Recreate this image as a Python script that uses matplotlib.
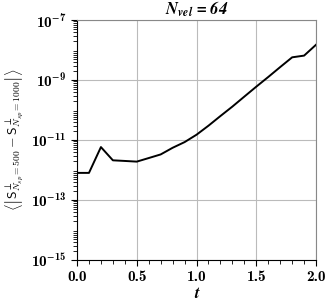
import matplotlib
matplotlib.use("Agg")
import matplotlib.pyplot as plt
from matplotlib.ticker import LogLocator, MultipleLocator, FixedLocator, NullFormatter

plt.rcParams["mathtext.fontset"] = "cm"
plt.rcParams["font.family"] = "serif"
plt.rcParams["font.serif"] = ["cmb10", "DejaVu Serif"]

# time samples and mean |S_perp(500) - S_perp(1000)|
t = [0.0, 0.1, 0.2, 0.3, 0.4, 0.5, 0.6, 0.7, 0.8, 0.9, 1.0,
     1.1, 1.2, 1.3, 1.4, 1.5, 1.6, 1.7, 1.8, 1.9, 2.0]
diff = [8.0e-13, 8.0e-13, 5.8e-12, 2.1e-12, 2.0e-12, 1.9e-12, 2.5e-12,
        3.3e-12, 5.5e-12, 8.5e-12, 1.5e-11, 3.0e-11, 6.3e-11, 1.3e-10,
        2.8e-10, 6.0e-10, 1.26e-9, 2.7e-9, 5.7e-9, 6.5e-9, 1.5e-8]

x_ticks = [0.0, 0.5, 1.0, 1.5, 2.0]
y_exps = [-15, -13, -11, -9, -7]

bold_it = dict(family="STIXGeneral", style="italic", weight="bold")

fig = plt.figure(figsize=(3.32, 3.03), dpi=100)
ax = fig.add_axes([0.232, 0.142, 0.720, 0.792])

ax.plot(t, diff, color="black", lw=1.4, zorder=3)
ax.set_yscale("log")
ax.set_xlim(0, 2)
ax.set_ylim(1e-15, 1e-7)

ax.xaxis.set_major_locator(FixedLocator(x_ticks))
ax.xaxis.set_minor_locator(MultipleLocator(0.1))
ax.set_xticklabels(["%.1f" % v for v in x_ticks], fontsize=11)

ax.yaxis.set_major_locator(FixedLocator([10.0 ** e for e in y_exps]))
ax.yaxis.set_minor_locator(LogLocator(base=10, subs=range(2, 10), numticks=50))
ax.yaxis.set_minor_formatter(NullFormatter())
ax.set_yticklabels([r"$\mathregular{10^{%d}}$" % e for e in y_exps], fontsize=11)

ax.tick_params(which="both", direction="out", length=4, width=0.8)
ax.tick_params(which="minor", length=3, width=0.6)
ax.grid(True, which="major", color="#bbbbbb", lw=0.8)

for side in ("top", "right"):
    ax.spines[side].set_color("#888888")

ax.set_xlabel("t", fontsize=12, labelpad=1, **bold_it)
ax.set_ylabel(r"$\left\langle \left| \mathsf{S}^{\perp}_{N_{sp}=500}"
              r" - \mathsf{S}^{\perp}_{N_{sp}=1000} \right| \right\rangle$",
              fontsize=9.8, labelpad=4)
ax.set_title(r"$\mathregular{N_{vel}}$ = 64", fontsize=12, pad=4, **bold_it)

fig.savefig("out.png", dpi=100)
